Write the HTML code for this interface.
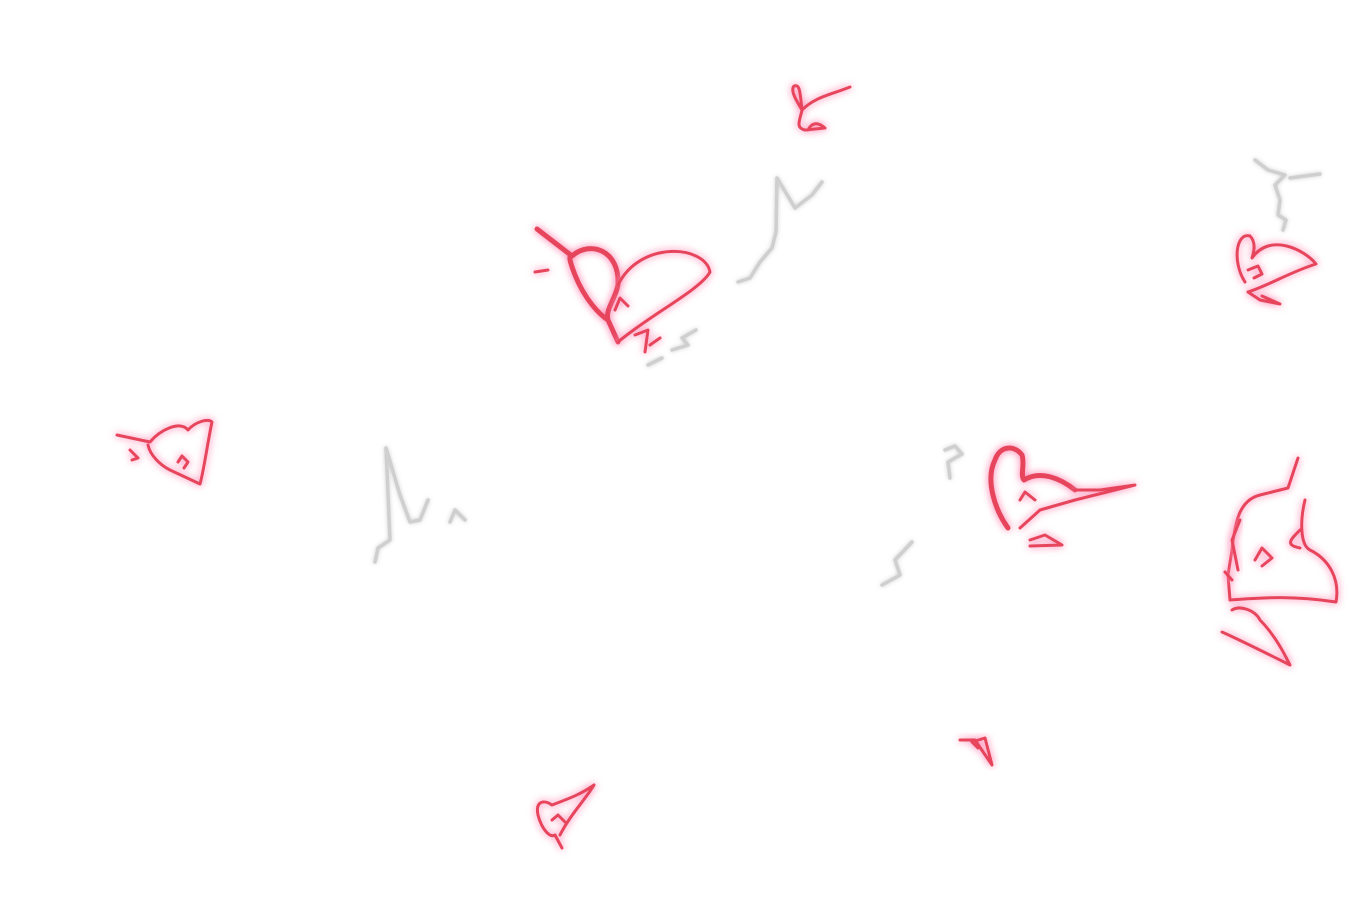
<!DOCTYPE html>
<html><head><meta charset="utf-8"><style>
html,body{margin:0;padding:0;background:#fff;width:1350px;height:903px;overflow:hidden}
svg{display:block}
.r{fill:none;stroke:#e6455c;stroke-linecap:round;stroke-linejoin:round;filter:url(#glowR)}
.g{fill:none;stroke:#cfcfcf;stroke-linecap:round;stroke-linejoin:round;stroke-width:3.5;filter:url(#glowG)}
</style></head><body>
<svg width="1350" height="903" viewBox="0 0 1350 903">
<defs>
<filter id="glowR" x="-20%" y="-20%" width="140%" height="140%"><feGaussianBlur in="SourceGraphic" stdDeviation="4" result="b"/><feColorMatrix in="b" type="matrix" values="0 0 0 0 1  0 0 0 0 0.3  0 0 0 0 0.5  0 0 0 1.4 0" result="c"/><feMerge><feMergeNode in="c"/><feMergeNode in="SourceGraphic"/></feMerge></filter>
<filter id="glowG" x="-20%" y="-20%" width="140%" height="140%"><feGaussianBlur in="SourceGraphic" stdDeviation="2" result="b"/><feMerge><feMergeNode in="b"/><feMergeNode in="SourceGraphic"/></feMerge></filter>
</defs>
<g>
<path class="r" stroke-width="5" d="M537,229 L572,256 C590,240 620,250 618,285 C615,300 605,310 608,320 C600,315 585,300 575,275 C570,262 568,255 572,256 M608,320 L618,342"/>
<path class="r" stroke-width="3" d="M618,285 C640,240 705,245 710,272 C700,290 650,315 618,342 M535,272 L548,270 M615,310 L620,298 L628,306 M635,335 L648,330 L645,352 M650,345 L660,338"/>
</g>
<g>
<path class="g" d="M648,365 L662,358 M672,350 L688,345 L682,338 L696,330"/>
</g>
<path class="g" d="M738,282 L750,278 L760,262 L772,248 L776,232 L777,178 L795,208 L812,195 L822,182"/>
<path class="r" stroke-width="3" d="M850,87 C830,95 815,97 802,110 C796,100 790,90 794,86 C800,84 800,92 802,110 C800,120 795,128 805,130 L825,128 C818,122 812,122 808,130"/>
<path class="g" d="M1255,160 L1268,170 L1285,175 L1275,185 L1280,200 L1278,215 L1286,220 L1283,230 M1290,178 L1320,174"/>
<path class="r" stroke-width="3" d="M1245,282 C1232,262 1236,232 1250,236 C1256,242 1254,252 1252,258 C1270,232 1305,250 1316,264 C1290,272 1270,285 1248,292 M1248,292 L1260,300 L1280,304 L1262,296 M1248,270 L1258,266 L1262,274 L1254,278"/>
<path class="r" stroke-width="3" d="M117,435 L150,442 C160,430 180,420 188,430 C195,422 208,418 212,422 C208,440 204,470 200,484 L170,470 C160,465 150,455 148,445 M130,450 L138,458 L132,460 M178,462 L182,456 L188,462 L184,468"/>
<path class="g" d="M375,562 L378,548 L390,540 L386,448 L400,495 L410,522 L420,520 L428,500 M450,522 L455,510 L465,520"/>
<path class="g" d="M945,450 L955,446 L962,454 L948,462 L950,478"/>
<path class="g" d="M882,585 L900,575 L895,560 L912,542"/>
<path class="r" stroke-width="5" d="M1008,528 C995,510 985,480 995,460 C1000,445 1015,445 1022,455 C1025,465 1020,475 1024,480 C1040,470 1060,478 1075,490"/>
<g>
<path class="r" stroke-width="3" d="M1075,490 L1100,490 L1135,485 L1075,500 L1040,510 L1020,528 M1020,500 L1025,492 L1035,500 M1030,540 L1045,535 L1062,545 L1030,546"/>
</g>
<path class="r" stroke-width="3" d="M1298,458 L1288,488 L1260,495 C1240,500 1235,520 1232,550 L1228,575 L1230,600 C1260,598 1290,595 1336,602 C1340,580 1330,560 1310,550 C1300,545 1300,520 1305,500 M1300,530 C1290,540 1285,545 1300,548 M1255,560 L1262,548 L1272,558 L1262,566 M1232,610 C1240,605 1255,610 1260,620 C1275,635 1285,655 1290,665 C1260,650 1240,640 1222,632"/>
<g>
<path class="r" stroke-width="3" d="M1232,580 L1225,572 M1240,520 L1232,540 L1238,570"/>
</g>
<path class="r" stroke-width="3" d="M960,740 L975,740 L992,765 L985,738 L972,742 L978,748"/>
<path class="r" stroke-width="3" d="M594,785 C580,795 565,800 552,805 C545,800 535,800 538,815 C542,830 550,838 555,835 L562,848 M560,835 C570,815 585,800 594,785 M552,820 L558,815 L565,822"/>
</svg>
</body></html>
